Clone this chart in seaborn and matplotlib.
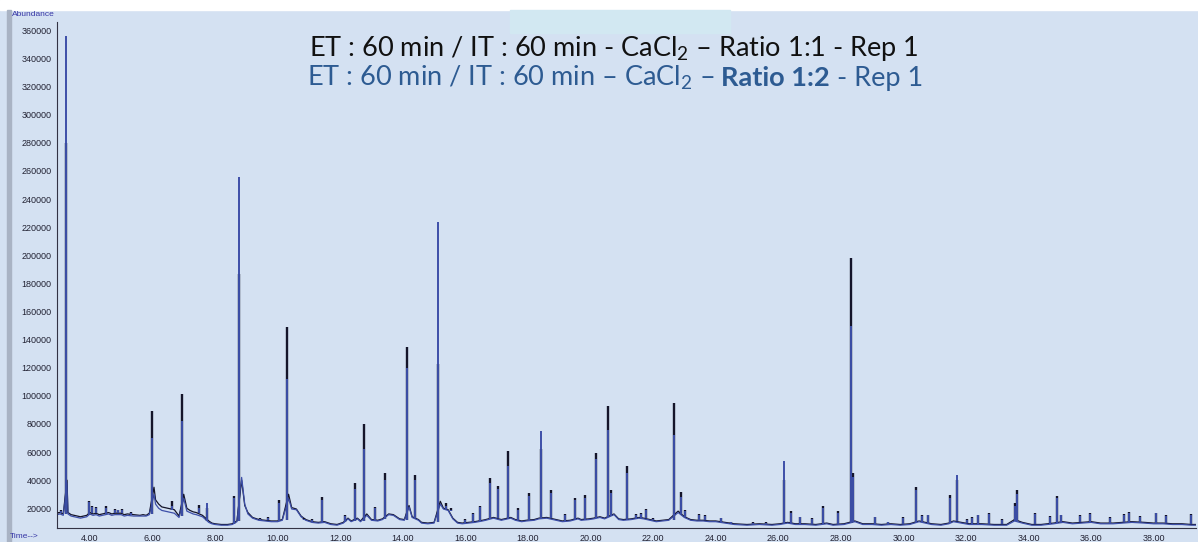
import matplotlib
matplotlib.use("Agg")
import matplotlib.pyplot as plt
from matplotlib.patches import Rectangle
from matplotlib.ticker import MultipleLocator, FormatStrFormatter
import numpy as np
import pandas as pd
import seaborn as sns

# Baseline of both runs (retention time in min, abundance)
base_rt = [2.95, 3.05, 3.15, 3.27, 3.3, 3.4, 3.5, 3.6, 3.7, 3.8,
           3.9, 4.0, 4.1, 4.2, 4.3, 4.4, 4.6, 4.7, 4.8, 5.0,
           5.1, 5.2, 5.4, 5.6, 5.7, 5.8, 5.9, 6.05, 6.1, 6.2,
           6.3, 6.4, 6.5, 6.7, 6.85, 7.0, 7.1, 7.2, 7.3, 7.4,
           7.6, 7.8, 7.9, 8.0, 8.2, 8.4, 8.55, 8.7, 8.85, 8.95,
           9.05, 9.2, 9.4, 9.6, 9.8, 10.0, 10.15, 10.35, 10.45, 10.6,
           10.75, 10.9, 11.1, 11.3, 11.5, 11.7, 11.9, 12.1, 12.25, 12.35,
           12.55, 12.65, 12.85, 13.0, 13.2, 13.35, 13.55, 13.7, 13.9, 14.05,
           14.2, 14.3, 14.5, 14.6, 14.8, 15.0, 15.2, 15.3, 15.45, 15.6,
           15.75, 15.9, 16.1, 16.3, 16.55, 16.65, 16.9, 17.15, 17.45, 17.6,
           17.8, 17.95, 18.2, 18.35, 18.6, 18.9, 19.1, 19.35, 19.6, 19.7,
           19.95, 20.1, 20.3, 20.45, 20.75, 20.9, 21.05, 21.3, 21.55, 21.7,
           21.9, 22.1, 22.3, 22.5, 22.8, 23.0, 23.2, 23.4, 23.6, 23.8,
           24.0, 24.3, 24.6, 25.0, 25.4, 25.8, 26.05, 26.3, 26.55, 26.85,
           27.2, 27.55, 27.75, 28.1, 28.45, 28.7, 29.0, 29.3, 29.6, 29.9,
           30.2, 30.5, 30.9, 31.2, 31.45, 31.6, 31.85, 32.1, 32.5, 32.9,
           33.3, 33.55, 33.8, 34.1, 34.4, 34.8, 35.1, 35.4, 35.7, 36.0,
           36.3, 36.7, 37.0, 37.3, 37.7, 38.0, 38.3, 38.6, 38.9, 39.2, 39.4]
base_black = [16500, 17000, 16000, 40000, 17000, 15500, 15000, 14500, 14000, 14500,
              15000, 17000, 16000, 16500, 15500, 16000, 17000, 16000, 16500, 16500,
              15500, 16000, 15500, 15000, 15500, 15000, 16500, 35000, 26000, 23000,
              21000, 20500, 20000, 19000, 14500, 30000, 20000, 18500, 17500, 17000,
              15000, 11000, 9500, 9000, 8500, 8500, 9000, 11000, 40000, 22000,
              17000, 13500, 12000, 11500, 11000, 11000, 12000, 30000, 20500, 19500,
              14500, 12000, 10500, 10000, 10500, 9000, 8500, 10000, 13000, 11000,
              13000, 11000, 16000, 12000, 11500, 12500, 16000, 15500, 12500, 12000,
              22000, 14000, 12000, 10000, 9500, 10000, 25000, 20000, 19000, 13000,
              10000, 9500, 10000, 10500, 11500, 12000, 13500, 12000, 13500, 12000,
              11000, 11500, 12000, 13000, 13500, 12000, 11000, 11500, 13000, 12000,
              12500, 13000, 14000, 13000, 16000, 12500, 12000, 12500, 13500, 13000,
              12000, 11000, 11500, 12000, 18000, 14000, 12000, 11500, 11500, 11000,
              11000, 10000, 9000, 8500, 9000, 8500, 9000, 10000, 9000, 9000,
              8500, 9500, 8500, 9000, 11000, 9000, 9000, 8500, 9000, 8500,
              9000, 11000, 9000, 8500, 9500, 11000, 10000, 9000, 9000, 8500,
              8500, 12000, 10000, 8500, 8500, 9500, 10500, 9500, 10000, 10500,
              9500, 9500, 10000, 10500, 10000, 9500, 9500, 9000, 9000, 8500, 8500]
base_blue = [15500, 16000, 15000, 38000, 16000, 14500, 14000, 13500, 13000, 13500,
             14000, 16000, 15000, 15500, 14500, 15000, 16000, 15000, 15500, 15500,
             14500, 15000, 14500, 14500, 14500, 14500, 15500, 30000, 23000, 20000,
             18500, 18000, 17500, 16500, 13500, 27000, 18000, 17000, 16000, 15500,
             14000, 10000, 9000, 8500, 8000, 8000, 8500, 10500, 42000, 23000,
             16000, 13000, 11500, 11000, 10500, 10500, 11500, 27000, 19500, 19000,
             14000, 11500, 10000, 9500, 10000, 8500, 8000, 9500, 12500, 10500,
             12500, 10500, 15000, 11500, 11000, 12000, 15500, 15000, 12000, 11500,
             21000, 13500, 11500, 9500, 9000, 9500, 23000, 19500, 18500, 12500,
             9500, 9000, 9500, 10000, 11000, 11500, 13000, 11500, 13000, 11500,
             10500, 11000, 11500, 12500, 13000, 11500, 10500, 11000, 12500, 11500,
             12000, 12500, 13500, 12500, 15500, 12000, 11500, 12000, 13000, 12500,
             11500, 10500, 11000, 11500, 17000, 13500, 11500, 11000, 11000, 10500,
             10500, 9500, 8500, 8000, 8500, 8000, 8500, 9500, 8500, 8500,
             8000, 9000, 8000, 8500, 10500, 8500, 8500, 8000, 8500, 8000,
             8500, 10500, 8500, 8000, 9000, 10500, 9500, 8500, 8500, 8000,
             8000, 11000, 9500, 8000, 8000, 9000, 10000, 9000, 9500, 10000,
             9000, 9000, 9500, 10000, 9500, 9000, 9000, 8500, 8500, 8000, 8000]

# Peaks: apex time, local baseline, apex abundance of each run
peak_rt = [3.02, 3.09, 3.23, 3.96, 4.06, 4.19, 4.51, 4.81, 4.89, 5.03,
           5.3, 5.99, 6.62, 6.94, 7.49, 7.73, 8.62, 8.78, 9.45, 9.7,
           10.05, 10.29, 10.85, 11.1, 11.43, 12.14, 12.46, 12.76, 13.11, 13.44,
           14.14, 14.4, 15.11, 15.38, 15.54, 16.0, 16.24, 16.46, 16.78, 17.03,
           17.35, 17.68, 18.05, 18.43, 18.74, 19.19, 19.51, 19.81, 20.16, 20.56,
           20.65, 21.17, 21.46, 21.62, 21.78, 22.0, 22.67, 22.9, 23.03, 23.48,
           23.65, 24.16, 24.5, 25.2, 25.6, 26.19, 26.41, 26.7, 27.08, 27.43,
           27.92, 28.32, 28.4, 29.08, 29.5, 29.98, 30.4, 30.59, 30.79, 31.49,
           31.7, 32.02, 32.19, 32.38, 32.74, 33.14, 33.57, 33.62, 34.19, 34.7,
           34.9, 35.05, 35.65, 35.95, 36.59, 37.06, 37.21, 37.57, 38.08, 38.38, 39.2]
peak_foot = [16500, 16500, 16000, 15000, 16500, 16500, 16000, 16500, 16500, 16500,
             15500, 16000, 19000, 14500, 16500, 11000, 9000, 11000, 12000, 11500,
             11000, 12000, 12000, 10500, 10000, 10000, 11000, 11000, 12000, 12500,
             12000, 13000, 10000, 19500, 18000, 9500, 10500, 11000, 12500, 13000,
             12500, 12000, 11500, 13000, 13000, 11000, 12500, 12000, 13000, 13500,
             14500, 12000, 12500, 13000, 13000, 11500, 12000, 16000, 14000, 11500,
             11500, 10500, 9000, 8500, 8500, 9500, 9500, 9000, 8500, 9000,
             9000, 9500, 10500, 9000, 8500, 8500, 10000, 10000, 9500, 9500,
             11000, 9500, 9000, 9000, 9000, 8500, 11000, 11000, 8500, 9000,
             9500, 10500, 10000, 10500, 9500, 10000, 10500, 10000, 9500, 9500, 8500]
peak_black = [17500, 19000, 280000, 25500, 22000, 21000, 21500, 19500, 19000, 19500,
              17500, 89000, 25500, 101000, 22500, 20000, 29000, 187000, 13000, 13500,
              25700, 149000, 13000, 12500, 28000, 15000, 37700, 80000, 21000, 45000,
              135000, 43400, 123000, 23500, 20000, 12500, 17000, 22000, 41300, 35600,
              60700, 20000, 31000, 62000, 33300, 16000, 27100, 29200, 59300, 93000,
              33000, 50000, 16000, 17000, 19500, 13000, 95000, 31400, 19000, 16000,
              15000, 13300, 10500, 10000, 10000, 40000, 18000, 14000, 12800, 22000,
              18000, 198000, 45000, 14000, 10500, 13500, 35000, 15000, 15500, 29200,
              40000, 12500, 13500, 15500, 16500, 12500, 23500, 32800, 17000, 14500,
              28500, 15500, 15000, 16500, 13500, 16000, 17500, 14500, 17000, 15000, 16000]
peak_blue = [17000, 18000, 356000, 24500, 21000, 20000, 20500, 18500, 18500, 18500,
             16500, 70000, 22000, 82000, 20000, 23500, 27000, 256000, 12500, 13000,
             24000, 112000, 12500, 12000, 26000, 14500, 34000, 62000, 20000, 40000,
             120000, 40000, 224000, 22000, 19000, 12000, 16000, 21000, 38000, 34000,
             50000, 19000, 29000, 75000, 31000, 15500, 26000, 27000, 55000, 76000,
             31000, 45000, 15500, 16000, 18500, 12500, 72000, 28000, 18000, 15000,
             14500, 12800, 10000, 9500, 9500, 53600, 17000, 13500, 12300, 20000,
             17000, 150000, 42000, 13500, 10000, 13000, 33000, 14500, 15000, 27000,
             44000, 12000, 13000, 15000, 16000, 12000, 22000, 30000, 16000, 14000,
             27000, 15000, 14500, 16000, 13000, 15500, 17000, 14000, 16500, 14500, 15500]

BG = "#d4e1f2"
C_BLACK = "#14142a"
C_BLUE = "#3d4fa8"
C_TITLE2 = "#2d5b92"
TITLE_SIZE = 19.5

sns.set_style("white")
plt.rcParams["mathtext.fontset"] = "custom"
plt.rcParams["mathtext.rm"] = "Lato"
plt.rcParams["mathtext.bf"] = "Lato:bold"

fig = plt.figure(figsize=(11.98, 5.42), dpi=100, facecolor=BG)
W, H = 1198, 542

# window decorations
fig.patches.append(Rectangle((0, 1 - 10 / H), 1, 10 / H, transform=fig.transFigure,
                             color="white", zorder=-5))
fig.patches.append(Rectangle((7 / W, 0), 4 / W, 1 - 10 / H, transform=fig.transFigure,
                             color="#a9b3c4", zorder=-5))
fig.patches.append(Rectangle((510 / W, 1 - 33 / H), 220 / W, 23 / H, transform=fig.transFigure,
                             color="#d2e8f2", zorder=-5))

ax = fig.add_axes([57 / W, 14 / H, (1196 - 57) / W, (528 - 22) / H])
ax.set_facecolor("none")

df = pd.concat([
    pd.DataFrame({"rt": base_rt, "ab": base_black, "run": "1:1"}),
    pd.DataFrame({"rt": base_rt, "ab": base_blue, "run": "1:2"}),
])
sns.lineplot(data=df, x="rt", y="ab", hue="run", palette={"1:1": C_BLACK, "1:2": C_BLUE},
             estimator=None, sort=False, linewidth=0.9, legend=False, ax=ax)

ax.vlines(peak_rt, peak_foot, peak_black, color=C_BLACK, linewidth=1.7, zorder=3)
ax.vlines(peak_rt, peak_foot, peak_blue, color=C_BLUE, linewidth=1.4, zorder=4)

ax.set_xlim(2.95, 39.35)
ax.set_ylim(6000, 366000)
ax.xaxis.set_minor_locator(MultipleLocator(0.5))
ax.xaxis.set_major_formatter(FormatStrFormatter("%.2f"))
ax.yaxis.set_minor_locator(MultipleLocator(4000))
ax.yaxis.set_major_formatter(FormatStrFormatter("%d"))
ax.set_yticks(np.arange(20000, 360001, 20000))
ax.set_xticks(np.arange(4, 39, 2))
ax.set_xlabel("")
ax.set_ylabel("")
for s in ["top", "right"]:
    ax.spines[s].set_visible(False)
for s in ["left", "bottom"]:
    ax.spines[s].set_color("#333344")
    ax.spines[s].set_linewidth(0.8)
ax.tick_params(axis="y", which="major", length=3, width=0.7, pad=1, labelsize=6.5,
               colors="#333344", labelcolor="#222233")
ax.tick_params(axis="y", which="minor", length=1.5, width=0.6, colors="#333344")
ax.tick_params(axis="x", which="major", length=4, width=0.7, pad=0.5, labelsize=6.5,
               colors="#333344", labelcolor="#222233")
ax.tick_params(axis="x", which="minor", length=2, width=0.6, colors="#333344")
for lab in ax.get_xticklabels() + ax.get_yticklabels():
    lab.set_family("Liberation Sans")

fig.text(12 / W, 1 - 15 / H, "Abundance", fontsize=6, color="#3535a5",
         family="Liberation Sans", va="center", ha="left")
fig.text(10 / W, 1 - 537 / H, "Time-->", fontsize=6, color="#3535a5",
         family="Liberation Sans", va="center", ha="left")

# title line 1
fig.text(614 / W, 1 - 56 / H, r"ET : 60 min / IT : 60 min - CaCl$_2$ – Ratio 1:1 - Rep 1",
         fontsize=TITLE_SIZE, color="#111111", family="Lato", ha="center", va="baseline")

# title line 2, made of three pieces (bold middle part)
renderer = fig.canvas.get_renderer()
pieces = [(r"ET : 60 min / IT : 60 min – CaCl$_2$ –", "normal"),
          ("Ratio 1:2", "bold"),
          ("- Rep 1", "normal")]


def text_width(s, weight):
    t = fig.text(0, 0, s, fontsize=TITLE_SIZE, family="Lato", fontweight=weight)
    w = t.get_window_extent(renderer).width
    t.remove()
    return w


space = text_width("x x", "normal") - text_width("xx", "normal")
widths = [text_width(s, w) for s, w in pieces]
total = sum(widths) + space * (len(pieces) - 1)
x = 615 - total / 2
for (s, w), wd in zip(pieces, widths):
    fig.text(x / W, 1 - 86 / H, s, fontsize=TITLE_SIZE, color=C_TITLE2, family="Lato",
             fontweight=w, ha="left", va="baseline")
    x += wd + space

fig.savefig("out.png", dpi=100, facecolor=BG)
